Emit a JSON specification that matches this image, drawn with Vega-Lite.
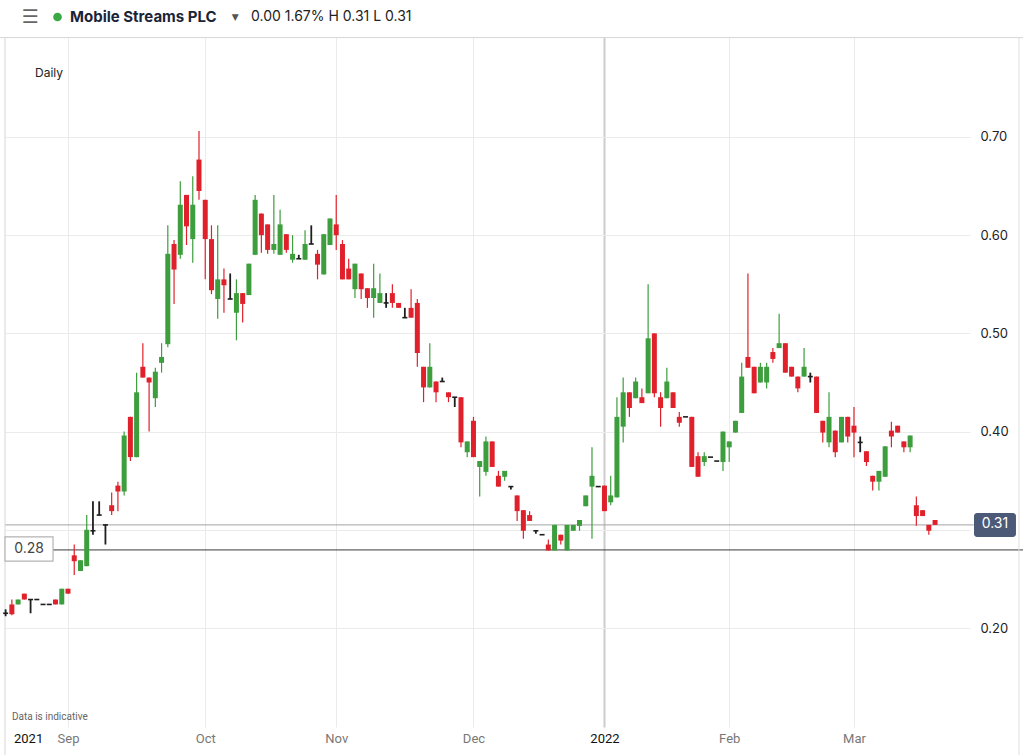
{
  "$schema": "https://vega.github.io/schema/vega-lite/v6.json",
  "width": 965,
  "height": 690,
  "autosize": {"type": "none"},
  "padding": {"left": 5, "top": 37, "right": 53, "bottom": 28},
  "background": "white",
  "config": {"view": {"stroke": null}, "font": "Inter"},
  "datasets": {
    "candles": [
      {"t":0,"o":0.215,"h":0.219,"l":0.212,"c":0.215},
      {"t":1,"o":0.224,"h":0.229,"l":0.213,"c":0.214},
      {"t":2,"o":0.224,"h":0.229,"l":0.224,"c":0.229},
      {"t":3,"o":0.235,"h":0.235,"l":0.229,"c":0.229},
      {"t":4,"o":0.229,"h":0.229,"l":0.215,"c":0.229},
      {"t":5,"o":0.229,"h":0.229,"l":0.229,"c":0.229},
      {"t":6,"o":0.224,"h":0.224,"l":0.224,"c":0.224},
      {"t":7,"o":0.224,"h":0.224,"l":0.224,"c":0.224},
      {"t":8,"o":0.229,"h":0.229,"l":0.224,"c":0.224},
      {"t":9,"o":0.224,"h":0.240,"l":0.224,"c":0.240},
      {"t":10,"o":0.240,"h":0.240,"l":0.235,"c":0.235},
      {"t":11,"o":0.274,"h":0.285,"l":0.254,"c":0.268},
      {"t":12,"o":0.258,"h":0.269,"l":0.258,"c":0.269},
      {"t":13,"o":0.263,"h":0.315,"l":0.263,"c":0.300},
      {"t":14,"o":0.299,"h":0.329,"l":0.295,"c":0.299},
      {"t":15,"o":0.315,"h":0.329,"l":0.315,"c":0.315},
      {"t":16,"o":0.305,"h":0.305,"l":0.285,"c":0.305},
      {"t":17,"o":0.325,"h":0.338,"l":0.315,"c":0.319},
      {"t":18,"o":0.345,"h":0.349,"l":0.319,"c":0.339},
      {"t":19,"o":0.339,"h":0.400,"l":0.335,"c":0.396},
      {"t":20,"o":0.415,"h":0.415,"l":0.370,"c":0.374},
      {"t":21,"o":0.374,"h":0.460,"l":0.374,"c":0.440},
      {"t":22,"o":0.466,"h":0.490,"l":0.455,"c":0.455},
      {"t":23,"o":0.455,"h":0.455,"l":0.400,"c":0.450},
      {"t":24,"o":0.434,"h":0.465,"l":0.425,"c":0.461},
      {"t":25,"o":0.470,"h":0.490,"l":0.460,"c":0.476},
      {"t":26,"o":0.489,"h":0.610,"l":0.486,"c":0.581},
      {"t":27,"o":0.591,"h":0.595,"l":0.530,"c":0.565},
      {"t":28,"o":0.580,"h":0.655,"l":0.576,"c":0.631},
      {"t":29,"o":0.641,"h":0.641,"l":0.590,"c":0.609},
      {"t":30,"o":0.596,"h":0.660,"l":0.572,"c":0.631},
      {"t":31,"o":0.677,"h":0.706,"l":0.636,"c":0.645},
      {"t":32,"o":0.636,"h":0.636,"l":0.555,"c":0.596},
      {"t":33,"o":0.596,"h":0.610,"l":0.540,"c":0.544},
      {"t":34,"o":0.535,"h":0.610,"l":0.515,"c":0.555},
      {"t":35,"o":0.555,"h":0.566,"l":0.521,"c":0.549},
      {"t":36,"o":0.535,"h":0.561,"l":0.535,"c":0.535},
      {"t":37,"o":0.521,"h":0.555,"l":0.493,"c":0.541},
      {"t":38,"o":0.541,"h":0.541,"l":0.511,"c":0.530},
      {"t":39,"o":0.539,"h":0.571,"l":0.539,"c":0.571},
      {"t":40,"o":0.580,"h":0.641,"l":0.580,"c":0.636},
      {"t":41,"o":0.622,"h":0.622,"l":0.582,"c":0.600},
      {"t":42,"o":0.611,"h":0.611,"l":0.581,"c":0.585},
      {"t":43,"o":0.585,"h":0.641,"l":0.581,"c":0.591},
      {"t":44,"o":0.580,"h":0.626,"l":0.580,"c":0.611},
      {"t":45,"o":0.601,"h":0.601,"l":0.582,"c":0.585},
      {"t":46,"o":0.575,"h":0.600,"l":0.572,"c":0.581},
      {"t":47,"o":0.576,"h":0.580,"l":0.576,"c":0.576},
      {"t":48,"o":0.575,"h":0.605,"l":0.575,"c":0.591},
      {"t":49,"o":0.591,"h":0.610,"l":0.591,"c":0.591},
      {"t":50,"o":0.581,"h":0.585,"l":0.555,"c":0.570},
      {"t":51,"o":0.560,"h":0.601,"l":0.560,"c":0.601},
      {"t":52,"o":0.590,"h":0.617,"l":0.590,"c":0.617},
      {"t":53,"o":0.611,"h":0.641,"l":0.585,"c":0.600},
      {"t":54,"o":0.591,"h":0.595,"l":0.555,"c":0.555},
      {"t":55,"o":0.566,"h":0.576,"l":0.555,"c":0.555},
      {"t":56,"o":0.545,"h":0.571,"l":0.536,"c":0.571},
      {"t":57,"o":0.561,"h":0.561,"l":0.535,"c":0.545},
      {"t":58,"o":0.546,"h":0.546,"l":0.526,"c":0.536},
      {"t":59,"o":0.536,"h":0.571,"l":0.516,"c":0.546},
      {"t":60,"o":0.531,"h":0.561,"l":0.531,"c":0.541},
      {"t":61,"o":0.531,"h":0.541,"l":0.526,"c":0.531},
      {"t":62,"o":0.541,"h":0.550,"l":0.526,"c":0.531},
      {"t":63,"o":0.531,"h":0.531,"l":0.526,"c":0.526},
      {"t":64,"o":0.516,"h":0.526,"l":0.516,"c":0.516},
      {"t":65,"o":0.526,"h":0.545,"l":0.516,"c":0.516},
      {"t":66,"o":0.531,"h":0.535,"l":0.466,"c":0.480},
      {"t":67,"o":0.466,"h":0.466,"l":0.430,"c":0.445},
      {"t":68,"o":0.445,"h":0.490,"l":0.445,"c":0.466},
      {"t":69,"o":0.451,"h":0.451,"l":0.430,"c":0.440},
      {"t":70,"o":0.451,"h":0.455,"l":0.451,"c":0.451},
      {"t":71,"o":0.440,"h":0.440,"l":0.430,"c":0.435},
      {"t":72,"o":0.435,"h":0.435,"l":0.425,"c":0.435},
      {"t":73,"o":0.435,"h":0.435,"l":0.384,"c":0.389},
      {"t":74,"o":0.379,"h":0.390,"l":0.374,"c":0.390},
      {"t":75,"o":0.411,"h":0.415,"l":0.374,"c":0.374},
      {"t":76,"o":0.364,"h":0.370,"l":0.334,"c":0.370},
      {"t":77,"o":0.359,"h":0.395,"l":0.355,"c":0.390},
      {"t":78,"o":0.390,"h":0.390,"l":0.364,"c":0.364},
      {"t":79,"o":0.355,"h":0.360,"l":0.344,"c":0.344},
      {"t":80,"o":0.354,"h":0.360,"l":0.350,"c":0.360},
      {"t":81,"o":0.344,"h":0.344,"l":0.341,"c":0.344},
      {"t":82,"o":0.335,"h":0.335,"l":0.309,"c":0.319},
      {"t":83,"o":0.320,"h":0.320,"l":0.291,"c":0.299},
      {"t":84,"o":0.315,"h":0.319,"l":0.309,"c":0.309},
      {"t":85,"o":0.299,"h":0.299,"l":0.296,"c":0.299},
      {"t":86,"o":0.295,"h":0.295,"l":0.295,"c":0.295},
      {"t":87,"o":0.285,"h":0.290,"l":0.279,"c":0.279},
      {"t":88,"o":0.279,"h":0.305,"l":0.279,"c":0.305},
      {"t":89,"o":0.295,"h":0.295,"l":0.285,"c":0.289},
      {"t":90,"o":0.279,"h":0.305,"l":0.279,"c":0.305},
      {"t":91,"o":0.299,"h":0.305,"l":0.299,"c":0.305},
      {"t":92,"o":0.304,"h":0.310,"l":0.299,"c":0.310},
      {"t":93,"o":0.324,"h":0.335,"l":0.324,"c":0.335},
      {"t":94,"o":0.344,"h":0.384,"l":0.291,"c":0.355},
      {"t":95,"o":0.344,"h":0.344,"l":0.344,"c":0.344},
      {"t":96,"o":0.345,"h":0.345,"l":0.319,"c":0.319},
      {"t":97,"o":0.328,"h":0.355,"l":0.325,"c":0.335},
      {"t":98,"o":0.333,"h":0.435,"l":0.333,"c":0.415},
      {"t":99,"o":0.405,"h":0.455,"l":0.389,"c":0.440},
      {"t":100,"o":0.440,"h":0.440,"l":0.415,"c":0.424},
      {"t":101,"o":0.434,"h":0.455,"l":0.434,"c":0.451},
      {"t":102,"o":0.435,"h":0.444,"l":0.429,"c":0.429},
      {"t":103,"o":0.439,"h":0.550,"l":0.439,"c":0.495},
      {"t":104,"o":0.500,"h":0.500,"l":0.435,"c":0.439},
      {"t":105,"o":0.435,"h":0.440,"l":0.405,"c":0.424},
      {"t":106,"o":0.434,"h":0.465,"l":0.434,"c":0.451},
      {"t":107,"o":0.440,"h":0.440,"l":0.424,"c":0.424},
      {"t":108,"o":0.415,"h":0.420,"l":0.405,"c":0.409},
      {"t":109,"o":0.415,"h":0.415,"l":0.415,"c":0.415},
      {"t":110,"o":0.415,"h":0.415,"l":0.364,"c":0.364},
      {"t":111,"o":0.375,"h":0.379,"l":0.354,"c":0.354},
      {"t":112,"o":0.369,"h":0.379,"l":0.365,"c":0.375},
      {"t":113,"o":0.374,"h":0.374,"l":0.374,"c":0.374},
      {"t":114,"o":0.370,"h":0.370,"l":0.370,"c":0.370},
      {"t":115,"o":0.369,"h":0.400,"l":0.360,"c":0.400},
      {"t":116,"o":0.384,"h":0.390,"l":0.369,"c":0.390},
      {"t":117,"o":0.399,"h":0.411,"l":0.399,"c":0.411},
      {"t":118,"o":0.419,"h":0.470,"l":0.419,"c":0.456},
      {"t":119,"o":0.476,"h":0.561,"l":0.465,"c":0.465},
      {"t":120,"o":0.466,"h":0.466,"l":0.439,"c":0.439},
      {"t":121,"o":0.450,"h":0.470,"l":0.450,"c":0.466},
      {"t":122,"o":0.450,"h":0.470,"l":0.444,"c":0.466},
      {"t":123,"o":0.481,"h":0.485,"l":0.470,"c":0.474},
      {"t":124,"o":0.485,"h":0.520,"l":0.485,"c":0.490},
      {"t":125,"o":0.490,"h":0.490,"l":0.460,"c":0.460},
      {"t":126,"o":0.466,"h":0.466,"l":0.456,"c":0.456},
      {"t":127,"o":0.456,"h":0.456,"l":0.440,"c":0.444},
      {"t":128,"o":0.456,"h":0.485,"l":0.456,"c":0.466},
      {"t":129,"o":0.456,"h":0.460,"l":0.450,"c":0.456},
      {"t":130,"o":0.456,"h":0.456,"l":0.419,"c":0.419},
      {"t":131,"o":0.411,"h":0.411,"l":0.389,"c":0.399},
      {"t":132,"o":0.389,"h":0.440,"l":0.384,"c":0.415},
      {"t":133,"o":0.401,"h":0.401,"l":0.374,"c":0.379},
      {"t":134,"o":0.389,"h":0.415,"l":0.389,"c":0.415},
      {"t":135,"o":0.415,"h":0.415,"l":0.389,"c":0.395},
      {"t":136,"o":0.406,"h":0.425,"l":0.374,"c":0.399},
      {"t":137,"o":0.389,"h":0.395,"l":0.379,"c":0.389},
      {"t":138,"o":0.380,"h":0.380,"l":0.365,"c":0.369},
      {"t":139,"o":0.355,"h":0.355,"l":0.340,"c":0.349},
      {"t":140,"o":0.349,"h":0.360,"l":0.340,"c":0.360},
      {"t":141,"o":0.354,"h":0.385,"l":0.354,"c":0.385},
      {"t":142,"o":0.401,"h":0.410,"l":0.384,"c":0.395},
      {"t":143,"o":0.406,"h":0.406,"l":0.399,"c":0.399},
      {"t":144,"o":0.390,"h":0.390,"l":0.379,"c":0.384},
      {"t":145,"o":0.384,"h":0.396,"l":0.379,"c":0.396},
      {"t":146,"o":0.325,"h":0.334,"l":0.304,"c":0.314},
      {"t":147,"o":0.320,"h":0.320,"l":0.314,"c":0.314},
      {"t":148,"o":0.305,"h":0.305,"l":0.295,"c":0.299},
      {"t":149,"o":0.310,"h":0.310,"l":0.305,"c":0.305}
    ]
  },
  "data": {"name": "candles"},
  "layer": [
    {
      "data": {"values": [{}]},
      "mark": {"type": "rule", "color": "#a3a3a3", "strokeWidth": 1},
      "encoding": {
        "x": {
          "datum": -0.1,
          "type": "quantitative",
          "scale": {"domain": [-0.1, 154.6], "nice": false, "zero": false, "padding": 0},
          "axis": {
            "orient": "bottom",
            "title": null,
            "values": [3.6, 10, 32, 53, 75, 96, 116, 136],
            "labelExpr": "datum.value < 5 ? '2021' : datum.value == 10 ? 'Sep' : datum.value == 32 ? 'Oct' : datum.value == 53 ? 'Nov' : datum.value == 75 ? 'Dec' : datum.value == 96 ? '2022' : datum.value == 116 ? 'Feb' : 'Mar'",
            "domain": false,
            "ticks": false,
            "grid": true,
            "gridColor": {"condition": {"test": "datum.value == 96", "value": "#cccccc"}, "value": "#ebebeb"},
            "gridWidth": {"condition": {"test": "datum.value == 96", "value": 2}, "value": 1},
            "gridOpacity": {"condition": {"test": "datum.value < 5", "value": 0}, "value": 1},
            "labelColor": {"condition": {"test": "datum.value < 5 || datum.value == 96", "value": "#111111"}, "value": "#777777"},
            "labelFont": "Roboto",
            "labelFontSize": 13,
            "labelPadding": 5,
            "labelFlush": false,
            "labelOverlap": false
          }
        },
        "x2": {"datum": 155.2},
        "y": {
          "datum": 0.305,
          "type": "quantitative",
          "scale": {"domain": [0.0992, 0.8018], "nice": false, "zero": false, "padding": 0},
          "axis": {
            "orient": "right",
            "title": null,
            "values": [0.2, 0.3, 0.4, 0.5, 0.6, 0.7],
            "format": ".2f",
            "labelExpr": "datum.value > 0.29 && datum.value < 0.31 ? '' : datum.label",
            "domain": false,
            "ticks": false,
            "grid": true,
            "gridColor": "#ebebeb",
            "labelColor": "#222222",
            "labelFont": "Inter",
            "labelFontSize": 13,
            "labelPadding": 10
          }
        }
      }
    },
    {
      "data": {"values": [{}]},
      "mark": {"type": "rule", "color": "#3a3a3a", "strokeWidth": 1},
      "encoding": {"x": {"datum": -0.1}, "x2": {"datum": 163.2}, "y": {"datum": 0.2795}}
    },
    {
      "data": {"values": [{}]},
      "mark": {"type": "rule", "color": "#d6d6d6", "strokeWidth": 1},
      "encoding": {"x": {"datum": -0.9}, "x2": {"datum": 163.2}, "y": {"datum": 0.8012}}
    },
    {
      "data": {"values": [{}]},
      "mark": {"type": "rule", "color": "#d6d6d6", "strokeWidth": 1},
      "encoding": {"x": {"datum": -0.1}, "y": {"datum": 0.8018}, "y2": {"datum": 0.0707}}
    },
    {
      "data": {"values": [{}]},
      "mark": {"type": "rule", "color": "#dedede", "strokeWidth": 1},
      "encoding": {"x": {"datum": 162.45}, "y": {"datum": 0.8018}, "y2": {"datum": 0.0707}}
    },
    {
      "mark": {"type": "rule"},
      "encoding": {
        "x": {"field": "t", "type": "quantitative", "title": null},
        "y": {"field": "l", "type": "quantitative", "title": null},
        "y2": {"field": "h"},
        "strokeWidth": {"condition": {"test": "datum.o == datum.c", "value": 1.8}, "value": 1.2},
        "color": {
          "condition": [
            {"test": "datum.c > datum.o", "value": "#3c9e3c"},
            {"test": "datum.c < datum.o", "value": "#e0212b"}
          ],
          "value": "#1e1e1e"
        }
      }
    },
    {
      "mark": {"type": "bar", "size": 5},
      "encoding": {
        "x": {"field": "t", "type": "quantitative", "title": null},
        "y": {"field": "o", "type": "quantitative", "title": null},
        "y2": {"field": "c"},
        "color": {
          "condition": [
            {"test": "datum.c > datum.o", "value": "#3c9e3c"},
            {"test": "datum.c < datum.o", "value": "#e0212b"}
          ],
          "value": "#1e1e1e"
        }
      }
    },
    {
      "transform": [{"filter": "datum.o == datum.c"}],
      "mark": {"type": "tick", "orient": "horizontal", "size": 5, "thickness": 1.6, "color": "#1e1e1e", "opacity": 1},
      "encoding": {
        "x": {"field": "t", "type": "quantitative", "title": null},
        "y": {"field": "o", "type": "quantitative", "title": null}
      }
    },
    {
      "data": {"values": [{}]},
      "mark": {"type": "rect", "fill": "white", "stroke": "#b3b3b3", "strokeWidth": 1.2},
      "encoding": {"x": {"datum": -0.1}, "x2": {"datum": 7.6}, "y": {"datum": 0.2927}, "y2": {"datum": 0.2682}}
    },
    {
      "data": {"values": [{}]},
      "mark": {"type": "text", "text": "0.28", "font": "Inter", "fontSize": 14, "color": "#444444", "align": "center", "baseline": "middle"},
      "encoding": {"x": {"datum": 3.75}, "y": {"datum": 0.2805}}
    },
    {
      "data": {"values": [{}]},
      "mark": {"type": "rect", "fill": "#4c5a78", "cornerRadius": 3},
      "encoding": {"x": {"datum": 155.24}, "x2": {"datum": 161.97}, "y": {"datum": 0.3171}, "y2": {"datum": 0.2927}}
    },
    {
      "data": {"values": [{}]},
      "mark": {"type": "text", "text": "0.31", "font": "Inter", "fontSize": 14, "color": "white", "align": "center", "baseline": "middle"},
      "encoding": {"x": {"datum": 158.6}, "y": {"datum": 0.3055}}
    },
    {
      "data": {"values": [{}]},
      "mark": {"type": "text", "text": "☰", "font": "DejaVu Sans", "fontSize": 19, "color": "#666666", "align": "center", "baseline": "middle"},
      "encoding": {"x": {"datum": 3.9}, "y": {"datum": 0.8222}}
    },
    {
      "data": {"values": [{}]},
      "mark": {"type": "point", "filled": true, "size": 75, "color": "#3aa845", "opacity": 1},
      "encoding": {"x": {"datum": 8.32}, "y": {"datum": 0.8222}}
    },
    {
      "data": {"values": [{}]},
      "mark": {"type": "text", "text": "Mobile Streams PLC", "font": "Inter", "fontSize": 15, "fontWeight": "bold", "color": "#1b2437", "align": "left", "baseline": "middle"},
      "encoding": {"x": {"datum": 10.32}, "y": {"datum": 0.8222}}
    },
    {
      "data": {"values": [{}]},
      "mark": {"type": "text", "text": "▼", "font": "DejaVu Sans", "fontSize": 9, "color": "#555555", "align": "center", "baseline": "middle"},
      "encoding": {"x": {"datum": 36.8}, "y": {"datum": 0.8222}}
    },
    {
      "data": {"values": [{}]},
      "mark": {"type": "text", "text": "0.00  1.67% H 0.31 L 0.31", "font": "Inter", "fontSize": 14, "color": "#222222", "align": "left", "baseline": "middle"},
      "encoding": {"x": {"datum": 39.34}, "y": {"datum": 0.8222}}
    },
    {
      "data": {"values": [{}]},
      "mark": {"type": "text", "text": "Daily", "font": "Inter", "fontSize": 12, "color": "#222222", "align": "left", "baseline": "middle"},
      "encoding": {"x": {"datum": 4.71}, "y": {"datum": 0.7652}}
    },
    {
      "data": {"values": [{}]},
      "mark": {"type": "text", "text": "Data is indicative", "font": "Roboto", "fontSize": 10, "color": "#666666", "align": "left", "baseline": "middle"},
      "encoding": {"x": {"datum": 1.02}, "y": {"datum": 0.1094}}
    }
  ]
}
